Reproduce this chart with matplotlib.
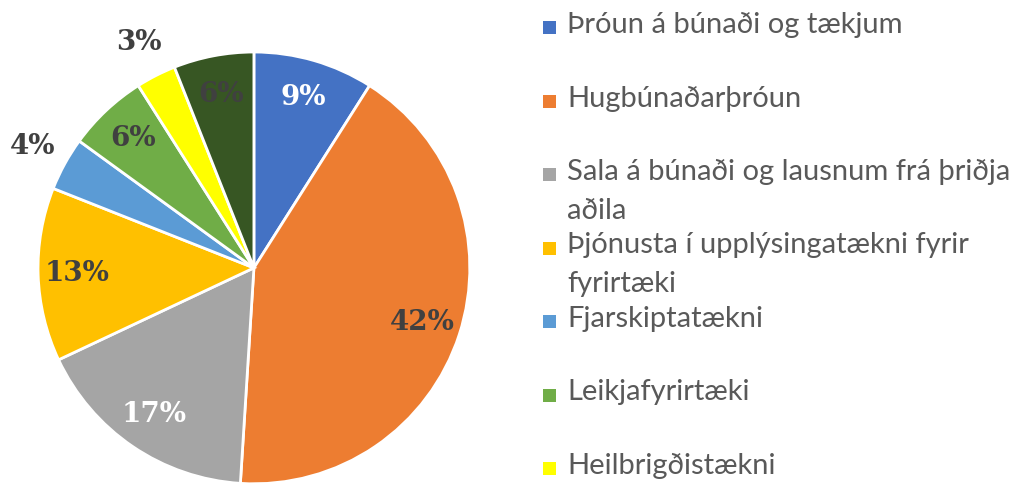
import matplotlib
matplotlib.use("Agg")
import matplotlib.pyplot as plt
from matplotlib.patches import Rectangle
import numpy as np

# Data
categories = [
    "Þróun á búnaði og tækjum",
    "Hugbúnaðarþróun",
    "Sala á búnaði og lausnum frá þriðja\naðila",
    "Þjónusta í upplýsingatækni fyrir\nfyrirtæki",
    "Fjarskiptatækni",
    "Leikjafyrirtæki",
    "Heilbrigðistækni",
    "Annað",
]
values = [9, 42, 17, 13, 4, 6, 3, 6]

colors = ["#4472C4", "#ED7D31", "#A5A5A5", "#FFC000",
          "#5B9BD5", "#70AD47", "#FFFF00", "#375623"]
label_colors = ["white", "#404040", "white", "#404040",
                "#404040", "#404040", "#404040", "#404040"]

fig = plt.figure(figsize=(10.28, 4.84), dpi=100)
ax = fig.add_axes([0.037, 0.0, 0.420, 0.893])

wedges, _ = ax.pie(values, colors=colors, startangle=90, counterclock=False,
                   wedgeprops=dict(edgecolor="white", linewidth=2))
ax.set_xlim(-1, 1)
ax.set_ylim(-1, 1)
ax.set_aspect("equal")

# data labels: small slices go outside the pie
for w, v, c in zip(wedges, values, label_colors):
    mid = np.deg2rad((w.theta1 + w.theta2) / 2)
    d = 1.17 if v < 5 else 0.82
    ax.text(d * np.cos(mid), d * np.sin(mid), f"{v}%", ha="center", va="center",
            color=c, fontsize=20, fontweight="bold", family="DejaVu Serif")

# legend (only the first seven entries fit in the picture)
top = 1 - 27 / 484
pitch = 73.5 / 484
for i, (lab, col) in enumerate(zip(categories[:7], colors[:7])):
    y = top - i * pitch
    fig.patches.append(Rectangle((543 / 1028, y - 7 / 484), 13 / 1028, 13 / 484,
                                 transform=fig.transFigure, facecolor=col,
                                 edgecolor="none"))
    fig.text(567 / 1028, y + 15 / 484, lab, ha="left", va="top", color="#595959",
             fontsize=21, family="Lato", linespacing=1.6)

fig.savefig("out.png", dpi=100)
